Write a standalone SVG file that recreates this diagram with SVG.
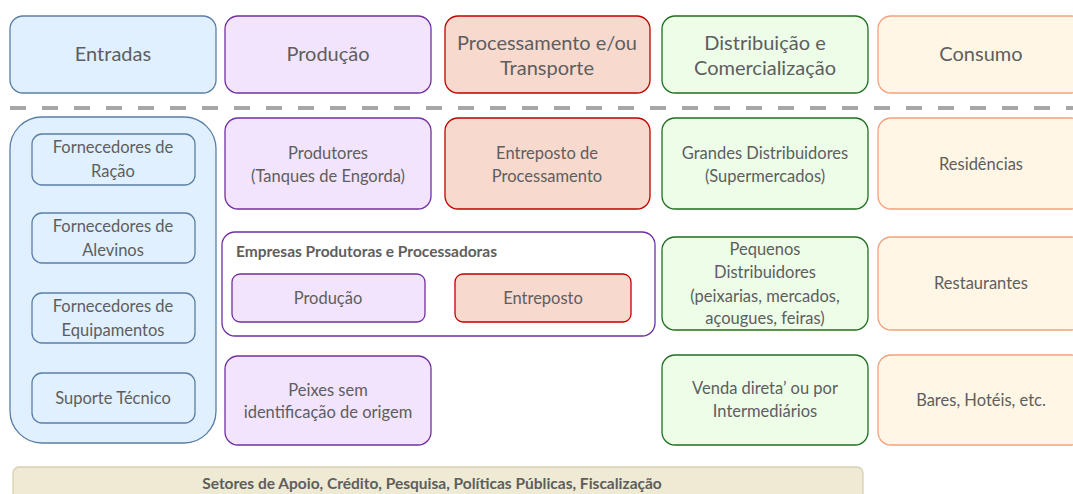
<svg xmlns="http://www.w3.org/2000/svg" width="1073" height="494" viewBox="0 0 1073 494">
  <style>
    text { font-family: "Lato", "Open Sans", "Liberation Sans", sans-serif; fill: #5e5e5e; text-anchor: middle; }
    .h { font-size: 20px; }
    .b { font-size: 16.5px; }
    .bold { font-size: 15.5px; font-weight: bold; }
    .blue { fill: #e0f0fe; stroke: #5a7ea6; stroke-width: 1.3; }
    .purple { fill: #f2e4fd; stroke: #7030a0; stroke-width: 1.3; }
    .red { fill: #f8d9cd; stroke: #c00000; stroke-width: 1.3; }
    .green { fill: #edfde8; stroke: #1f6f1f; stroke-width: 1.3; }
    .orange { fill: #fff6e5; stroke: #f4a07e; stroke-width: 1.3; }
    .group { fill: #ffffff; stroke: #7030a0; stroke-width: 1.3; }
    .base { fill: #eeead3; stroke: #d8d0b2; stroke-width: 1.3; }
  </style>

  <!-- stage headers -->
  <g id="hdr-entradas">
    <rect class="blue" x="10" y="16" width="206" height="77" rx="13"/>
    <text class="h" x="113" y="61">Entradas</text>
  </g>
  <g id="hdr-producao">
    <rect class="purple" x="225" y="16" width="206" height="77" rx="13"/>
    <text class="h" x="328" y="61">Produção</text>
  </g>
  <g id="hdr-processamento">
    <rect class="red" x="445" y="16" width="205" height="77" rx="13"/>
    <text class="h" x="547" y="50">Processamento e/ou</text>
    <text class="h" x="547" y="75">Transporte</text>
  </g>
  <g id="hdr-distribuicao">
    <rect class="green" x="662" y="16" width="206" height="77" rx="13"/>
    <text class="h" x="765" y="50">Distribuição e</text>
    <text class="h" x="765" y="75">Comercialização</text>
  </g>
  <g id="hdr-consumo">
    <rect class="orange" x="878" y="16" width="206" height="77" rx="13"/>
    <text class="h" x="981" y="61">Consumo</text>
  </g>

  <!-- separator between headers and chain members -->
  <line x1="10" y1="108" x2="1073" y2="108" stroke="#a6a6a6" stroke-width="4" stroke-dasharray="16 16"/>

  <!-- inputs -->
  <g id="entradas">
    <rect class="blue" x="10" y="117" width="206" height="326" rx="32"/>
  </g>
  <g id="forn-racao">
    <rect class="blue" x="32" y="134" width="163" height="51" rx="10"/>
    <text class="b" x="113" y="153">Fornecedores de</text>
    <text class="b" x="113" y="177">Ração</text>
  </g>
  <g id="forn-alevinos">
    <rect class="blue" x="32" y="213" width="163" height="50" rx="10"/>
    <text class="b" x="113" y="232">Fornecedores de</text>
    <text class="b" x="113" y="256">Alevinos</text>
  </g>
  <g id="forn-equipamentos">
    <rect class="blue" x="32" y="293" width="163" height="50" rx="10"/>
    <text class="b" x="113" y="312">Fornecedores de</text>
    <text class="b" x="113" y="336">Equipamentos</text>
  </g>
  <g id="suporte">
    <rect class="blue" x="32" y="373" width="163" height="50" rx="10"/>
    <text class="b" x="113" y="404">Suporte Técnico</text>
  </g>

  <!-- production -->
  <g id="produtores">
    <rect class="purple" x="225" y="118" width="206" height="91" rx="13"/>
    <text class="b" x="328" y="159">Produtores</text>
    <text class="b" x="328" y="182">(Tanques de Engorda)</text>
  </g>
  <g id="empresas">
    <rect class="group" x="222" y="232" width="433" height="104" rx="13"/>
    <text class="bold" x="236" y="257" style="text-anchor:start">Empresas Produtoras e Processadoras</text>
  </g>
  <g id="emp-producao">
    <rect class="purple" x="232" y="274" width="193" height="48" rx="8"/>
    <text class="b" x="328" y="304">Produção</text>
  </g>
  <g id="emp-entreposto">
    <rect class="red" x="455" y="274" width="176" height="48" rx="8"/>
    <text class="b" x="543" y="304">Entreposto</text>
  </g>
  <g id="peixes">
    <rect class="purple" x="225" y="356" width="206" height="89" rx="13"/>
    <text class="b" x="328" y="396">Peixes sem</text>
    <text class="b" x="328" y="418">identificação de origem</text>
  </g>

  <!-- processing -->
  <g id="entreposto">
    <rect class="red" x="445" y="118" width="205" height="91" rx="13"/>
    <text class="b" x="547" y="159">Entreposto de</text>
    <text class="b" x="547" y="182">Processamento</text>
  </g>

  <!-- distribution -->
  <g id="grandes">
    <rect class="green" x="662" y="118" width="206" height="91" rx="13"/>
    <text class="b" x="765" y="159">Grandes Distribuidores</text>
    <text class="b" x="765" y="182">(Supermercados)</text>
  </g>
  <g id="pequenos">
    <rect class="green" x="662" y="237" width="206" height="93" rx="13"/>
    <text class="b" x="765" y="255">Pequenos</text>
    <text class="b" x="765" y="278">Distribuidores</text>
    <text class="b" x="765" y="302">(peixarias, mercados,</text>
    <text class="b" x="765" y="324">açougues, feiras)</text>
  </g>
  <g id="venda">
    <rect class="green" x="662" y="355" width="206" height="90" rx="13"/>
    <text class="b" x="765" y="394">Venda direta’ ou por</text>
    <text class="b" x="765" y="417">Intermediários</text>
  </g>

  <!-- consumption -->
  <g id="residencias">
    <rect class="orange" x="878" y="118" width="206" height="91" rx="13"/>
    <text class="b" x="981" y="170">Residências</text>
  </g>
  <g id="restaurantes">
    <rect class="orange" x="878" y="237" width="206" height="93" rx="13"/>
    <text class="b" x="981" y="289">Restaurantes</text>
  </g>
  <g id="bares">
    <rect class="orange" x="878" y="355" width="206" height="90" rx="13"/>
    <text class="b" x="981" y="406">Bares, Hotéis, etc.</text>
  </g>

  <!-- support sectors -->
  <g id="setores">
    <rect class="base" x="13" y="467" width="850" height="40" rx="6"/>
    <text class="bold" x="432" y="489">Setores de Apoio, Crédito, Pesquisa, Políticas Públicas, Fiscalização</text>
  </g>

  <g id="connectors"/>
</svg>
